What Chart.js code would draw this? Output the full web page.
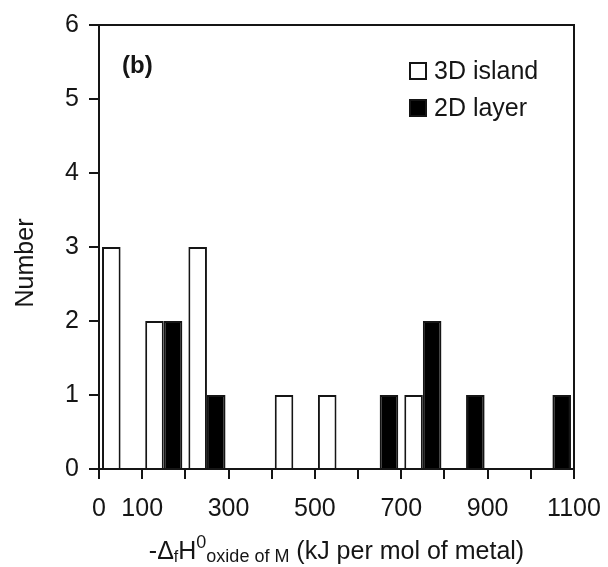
<!DOCTYPE html>
<html>
<head>
<meta charset="utf-8">
<script src="https://cdn.jsdelivr.net/npm/chart.js@4.4.1/dist/chart.umd.min.js"></script>
<style>
  html, body { margin: 0; padding: 0; background: #fff; }
  #wrap { width: 608px; height: 567px; }
</style>
</head>
<body>
<div id="wrap"><canvas id="histChart" width="608" height="567"></canvas></div>
<script>
// bins of 100 kJ/mol, start of each bin
const binStarts = [0, 100, 200, 300, 400, 500, 600, 700, 800, 900, 1000];
const island3D = [3, 2, 3, 0, 1, 1, 0, 1, 0, 0, 0];
const layer2D = [0, 2, 1, 0, 0, 0, 1, 2, 1, 0, 1];
const seriesLabels = ['3D island', '2D layer'];
const xLabelTicks = [0, 100, 300, 500, 700, 900, 1100];
const panelLabel = '(b)';
const yTitle = 'Number';
const xTitleParts = [
  { text: '-Δ' },
  { text: 'f', kind: 'sub' },
  { text: 'H' },
  { text: '0', kind: 'sup' },
  { text: 'oxide of M', kind: 'sub' },
  { text: ' (kJ per mol of metal)' },
];

const BIN = 100;
const FONT = '"Liberation Sans", Arial, Helvetica, sans-serif';
const INK = '#151515';

function toPoints(values) {
  return binStarts.map((b, i) => ({ x: b + BIN / 2, y: values[i] }));
}

const extras = {
  id: 'extras',
  afterDraw(chart) {
    const { ctx, chartArea: a } = chart;
    ctx.save();

    // box round the plot
    ctx.strokeStyle = INK;
    ctx.lineWidth = 2;
    ctx.strokeRect(a.left, a.top, a.right - a.left, a.bottom - a.top);

    ctx.fillStyle = INK;
    ctx.textBaseline = 'alphabetic';

    // panel tag
    ctx.font = `bold 24px ${FONT}`;
    ctx.textAlign = 'left';
    ctx.fillText(panelLabel, 122, 73);

    // legend
    chart.data.datasets.forEach((ds, i) => {
      const y = 62 + i * 37;
      ctx.fillStyle = ds.backgroundColor;
      ctx.fillRect(409, y, 18, 18);
      ctx.strokeStyle = INK;
      ctx.lineWidth = 2;
      ctx.strokeRect(410, y + 1, 16, 16);
      ctx.fillStyle = INK;
      ctx.font = `25px ${FONT}`;
      ctx.fillText(ds.label, 434, y + 17);
    });

    // y title
    ctx.save();
    ctx.translate(33, 263);
    ctx.rotate(-Math.PI / 2);
    ctx.textAlign = 'center';
    ctx.font = `25px ${FONT}`;
    ctx.fillText(yTitle, 0, 0);
    ctx.restore();

    // x title with sub/superscripts
    const fontFor = p => p.kind === 'sub' ? (p.text.length > 1 ? 18 : 16) : p.kind === 'sup' ? 18 : 25;
    const shiftFor = p => p.kind === 'sub' ? 3 : p.kind === 'sup' ? -11 : 0;
    let total = 0;
    xTitleParts.forEach(p => {
      ctx.font = `${fontFor(p)}px ${FONT}`;
      total += ctx.measureText(p.text).width;
    });
    let x = (a.left + a.right) / 2 - total / 2;
    const base = 559;
    ctx.textAlign = 'left';
    xTitleParts.forEach(p => {
      ctx.font = `${fontFor(p)}px ${FONT}`;
      ctx.fillText(p.text, x, base + shiftFor(p));
      x += ctx.measureText(p.text).width;
    });

    ctx.restore();
  }
};

const barStyle = {
  borderColor: INK,
  borderWidth: 2,
  borderSkipped: 'start',
  categoryPercentage: 0.86,
  barPercentage: 1.0,
};

new Chart(document.getElementById('histChart'), {
  type: 'bar',
  data: {
    datasets: [
      { label: seriesLabels[0], data: toPoints(island3D), backgroundColor: '#ffffff', ...barStyle },
      { label: seriesLabels[1], data: toPoints(layer2D), backgroundColor: '#000000', ...barStyle },
    ],
  },
  options: {
    responsive: false,
    animation: false,
    devicePixelRatio: 1,
    layout: { padding: { top: 25, right: 34, left: 0, bottom: 0 } },
    plugins: { legend: { display: false }, tooltip: { enabled: false } },
    scales: {
      x: {
        type: 'linear',
        min: 0,
        max: 1100,
        offset: false,
        afterFit: s => { s.height = 98; s.paddingLeft = 0; s.paddingRight = 0; },
        border: { display: true, color: INK, width: 2 },
        grid: { offset: false, drawOnChartArea: false, drawTicks: true, tickLength: 10, color: INK, lineWidth: 2 },
        ticks: {
          stepSize: BIN,
          autoSkip: false,
          maxRotation: 0,
          minRotation: 0,
          padding: 15,
          color: INK,
          font: { family: FONT, size: 25 },
          callback: v => xLabelTicks.includes(v) ? String(v) : '',
        },
      },
      y: {
        min: 0,
        max: 6,
        afterFit: s => { s.width = 99; s.paddingTop = 0; s.paddingBottom = 0; },
        border: { display: true, color: INK, width: 2 },
        grid: { drawOnChartArea: false, drawTicks: true, tickLength: 10, color: INK, lineWidth: 2 },
        ticks: {
          stepSize: 1,
          padding: 10,
          color: INK,
          font: { family: FONT, size: 25 },
        },
      },
    },
  },
  plugins: [extras],
});
</script>
</body>
</html>
